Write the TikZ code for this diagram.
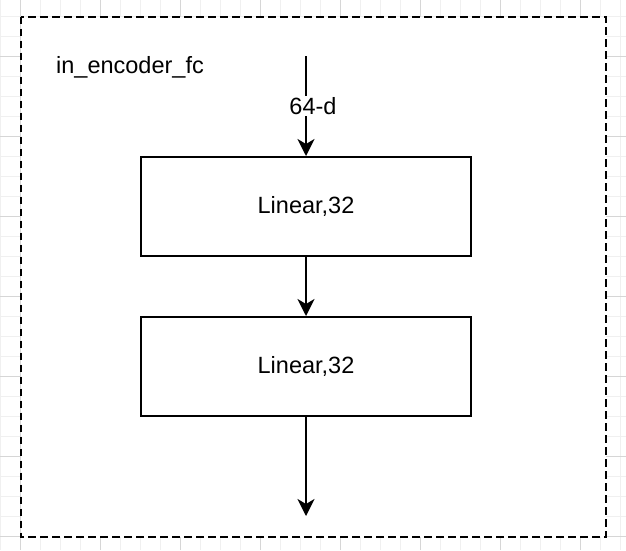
\documentclass[tikz,border=0pt]{standalone}
\usepackage{fontspec}
\setmainfont{Liberation Sans}
\usetikzlibrary{arrows.meta}
\begin{document}
\begin{tikzpicture}[x=1pt,y=-1pt,
  minorgrid/.style={draw=black!6,line width=1pt},
  majorgrid/.style={draw=black!16,line width=1pt},
  frame/.style={draw=black,fill=white,line width=2pt,dash pattern=on 7.5pt off 4.5pt},
  blk/.style={draw=black,fill=white,line width=2pt,minimum width=330pt,minimum height=99pt,
    font=\fontsize{23.5}{28}\selectfont},
  lbl/.style={font=\fontsize{23.5}{28}\selectfont},
  arr/.style={line width=2pt,-{Stealth[length=17pt,width=17pt,inset=5pt]}}]
\useasboundingbox (0,0) rectangle (626,550);
% background grid
\foreach \gx in {0.7,20.7,...,626} {\draw[minorgrid] (\gx,0) -- (\gx,550);}
\foreach \gy in {16.7,36.7,...,550} {\draw[minorgrid] (0,\gy) -- (626,\gy);}
\foreach \gx in {20.7,100.7,...,626} {\draw[majorgrid] (\gx,0) -- (\gx,550);}
\foreach \gy in {56.7,136.7,...,550} {\draw[majorgrid] (0,\gy) -- (626,\gy);}
% container
\path[frame] (20.7,16.7) rectangle (606,537);
\node[lbl] (title) at (130,67) {in\_encoder\_fc};
% blocks
\node[blk] (b1) at (306,206.5) {Linear,32};
\node[blk] (b2) at (306,366.5) {Linear,32};
\coordinate (in) at (306,56);
\coordinate (out) at (306,516);
\draw[arr] (in) -- (b1.north) node[midway,xshift=7pt,fill=white,inner sep=1pt,lbl] (dim) {64-d};
\draw[arr] (b1.south) -- (b2.north);
\draw[arr] (b2.south) -- (out);
\end{tikzpicture}
\end{document}
